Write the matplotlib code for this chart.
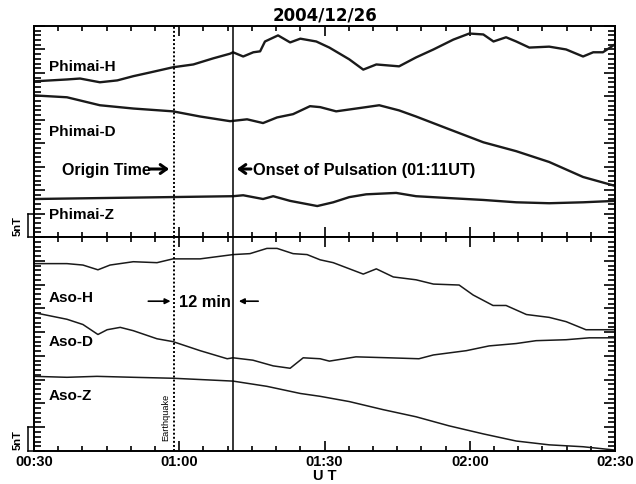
import numpy as np
import matplotlib
matplotlib.use("Agg")
import matplotlib.pyplot as plt
from matplotlib.ticker import MultipleLocator, FixedLocator

plt.rcParams["font.family"] = ["Liberation Sans", "DejaVu Sans"]

# ------------------------------------------------------------
# Data (time in minutes of UT, values in nT)
# ------------------------------------------------------------

phimai_h_t = [30.0, 36.8, 39.5, 43.6, 47.2, 50.5, 54.0, 58.7, 62.9, 67.0,
              70.5, 71.1, 73.2, 75.3, 76.7, 77.7, 80.4, 82.9, 85.0, 88.3,
              91.0, 95.1, 98.0, 100.7, 105.4, 108.9, 112.5, 116.6, 119.9, 122.8,
              124.9, 127.5, 129.6, 132.3, 136.4, 139.9, 143.4, 145.5, 147.5, 150.0]
phimai_h = [33.2, 33.6, 33.8, 33.0, 33.4, 34.3, 35.1, 36.2, 36.8, 38.1,
            39.1, 39.4, 38.5, 39.4, 39.6, 41.7, 43.0, 41.5, 42.3, 41.7,
            40.4, 37.9, 35.7, 36.8, 36.4, 38.3, 40.0, 42.1, 43.4, 43.2,
            41.7, 42.6, 41.7, 40.4, 40.6, 40.0, 38.5, 39.4, 39.4, 41.1]

phimai_d_t = [30.0, 36.8, 43.6, 50.5, 58.7, 64.3, 70.5, 74.0, 77.3, 80.2,
              83.5, 87.0, 89.1, 92.4, 98.6, 101.3, 105.4, 108.9, 115.7, 122.8,
              129.6, 136.4, 143.4, 150.0]
phimai_d = [30.2, 29.8, 28.1, 27.4, 26.8, 25.7, 24.7, 25.1, 24.3, 25.5,
            26.2, 27.9, 27.7, 26.8, 27.7, 28.1, 27.0, 25.7, 23.0, 20.2,
            18.3, 16.0, 12.8, 10.9]

phimai_z_t = [30.0, 43.6, 57.5, 71.1, 73.2, 77.3, 79.4, 82.9, 88.5, 91.8,
              95.1, 98.6, 104.8, 108.9, 115.7, 122.8, 129.6, 136.4, 143.4, 150.0]
phimai_z = [8.1, 8.3, 8.5, 8.7, 8.9, 8.1, 8.7, 7.7, 6.6, 7.4,
            8.5, 9.1, 9.4, 8.7, 8.3, 7.9, 7.4, 7.2, 7.4, 7.7]

aso_h_t = [30.0, 36.8, 40.1, 43.2, 45.7, 50.5, 55.4, 58.7, 64.3, 71.1,
           74.6, 78.1, 80.2, 83.5, 86.4, 89.1, 91.8, 98.0, 100.7, 104.2,
           108.9, 112.5, 117.8, 120.7, 124.8, 127.5, 131.7, 136.4, 139.9, 144.0,
           146.7, 150.0]
aso_h = [39.4, 39.4, 39.1, 38.1, 39.1, 39.8, 39.6, 40.4, 40.4, 41.3,
         41.5, 42.6, 42.6, 41.5, 41.3, 40.2, 39.6, 37.2, 38.3, 36.6,
         36.0, 35.1, 34.9, 32.8, 30.6, 30.6, 28.7, 28.1, 27.2, 25.5,
         25.5, 25.5]

aso_d_t = [30.0, 36.8, 40.1, 43.2, 45.1, 47.8, 50.5, 55.4, 58.7, 64.3,
           69.9, 71.1, 75.2, 79.4, 82.9, 85.6, 89.1, 91.0, 96.5, 103.3,
           109.5, 112.5, 119.3, 124.0, 129.6, 133.7, 139.9, 144.7, 150.0]
aso_d = [29.1, 27.7, 26.6, 24.5, 25.5, 26.0, 25.3, 23.6, 23.0, 21.1,
         19.4, 19.6, 19.1, 17.9, 17.4, 19.6, 19.4, 18.9, 19.8, 19.6,
         19.4, 20.2, 21.1, 22.1, 22.6, 23.2, 23.4, 23.8, 23.8]

aso_z_t = [30.0, 36.8, 43.0, 50.5, 58.7, 67.0, 71.1, 78.1, 85.0, 89.1,
           95.1, 102.1, 108.9, 115.7, 122.8, 129.6, 136.4, 143.4, 150.0]
aso_z = [15.7, 15.5, 15.7, 15.5, 15.3, 14.9, 14.7, 13.6, 12.1, 11.5,
         10.4, 8.7, 7.2, 5.3, 3.6, 2.1, 1.3, 0.9, 0.2]

x_ticks = [30, 60, 90, 120, 150]
x_tick_labels = ["00:30", "01:00", "01:30", "02:00", "02:30"]

origin_time = 58.9   # earthquake origin, 00:58:53 UT
onset_time = 71.0    # onset of pulsation, 01:11 UT


def style_axis(ax):
    ax.set_xlim(30, 150)
    ax.set_ylim(0, 45)
    ax.xaxis.set_major_locator(FixedLocator(x_ticks))
    ax.xaxis.set_minor_locator(MultipleLocator(5))
    ax.yaxis.set_major_locator(MultipleLocator(5))
    ax.yaxis.set_minor_locator(MultipleLocator(1))
    ax.tick_params(which="both", direction="in", top=True, right=True,
                   width=1.2, color="black")
    ax.tick_params(axis="y", which="major", length=8)
    ax.tick_params(axis="y", which="minor", length=5)
    ax.tick_params(axis="x", which="major", length=7)
    ax.tick_params(axis="x", which="minor", length=3.5)
    ax.tick_params(axis="y", labelleft=False)
    for spine in ax.spines.values():
        spine.set_linewidth(1.4)

    # vertical markers
    ax.axvline(origin_time, color="black", lw=1.4, ls=(0, (1, 1.1)))
    ax.axvline(onset_time, color="black", lw=1.1)

    # 5 nT scale bar on the left
    tr = ax.get_yaxis_transform()
    ax.plot([-0.011, -0.011], [0, 5], color="black", lw=1.1,
            transform=tr, clip_on=False)
    ax.plot([-0.011, 0], [0, 0], color="black", lw=1.1,
            transform=tr, clip_on=False)
    ax.plot([-0.011, 0], [5, 5], color="black", lw=1.1,
            transform=tr, clip_on=False)
    ax.text(-0.0275, 2.5, "5nT", rotation=90, transform=tr,
            ha="center", va="center", fontsize=8, fontweight="bold")


fig = plt.figure(figsize=(6.36, 4.85), dpi=100)
ax_top = fig.add_axes([0.0535, 0.5093, 0.9135, 0.4350])
ax_bot = fig.add_axes([0.0535, 0.0680, 0.9135, 0.4413])

line_color = "#1a1a1a"
arrow_kw = dict(arrowstyle="->, head_length=0.45, head_width=0.32",
                color="black", lw=2.2, shrinkA=0, shrinkB=0)

# ------------------------------------------------------------
# Upper panel: Phimai
# ------------------------------------------------------------
ax_top.plot(phimai_h_t, phimai_h, color=line_color, lw=1.7)
ax_top.plot(phimai_d_t, phimai_d, color=line_color, lw=1.7)
ax_top.plot(phimai_z_t, phimai_z, color=line_color, lw=1.7)
style_axis(ax_top)
ax_top.tick_params(axis="x", labelbottom=False)

label_kw = dict(fontsize=11, fontweight="bold", ha="left", va="center")
ax_top.text(33.0, 36.5, "Phimai-H", **label_kw)
ax_top.text(33.0, 22.7, "Phimai-D", **label_kw)
ax_top.text(33.0, 4.8, "Phimai-Z", **label_kw)

ax_top.text(35.8, 14.5, "Origin Time", fontsize=11.5,
            fontweight="bold", ha="left", va="center")
ax_top.annotate("", xy=(57.9, 14.5), xytext=(53.9, 14.5), arrowprops=arrow_kw)
ax_top.text(75.2, 14.5, "Onset of Pulsation (01:11UT)", fontsize=11.8,
            fontweight="bold", ha="left", va="center")
ax_top.annotate("", xy=(71.9, 14.5), xytext=(74.8, 14.5), arrowprops=arrow_kw)

ax_top.set_title("2004/12/26", fontsize=12, fontweight="bold", pad=5,
                 family="DejaVu Sans")

# ------------------------------------------------------------
# Lower panel: Aso
# ------------------------------------------------------------
ax_bot.plot(aso_h_t, aso_h, color=line_color, lw=1.1)
ax_bot.plot(aso_d_t, aso_d, color=line_color, lw=1.1)
ax_bot.plot(aso_z_t, aso_z, color=line_color, lw=1.1)
style_axis(ax_bot)
ax_bot.set_xticklabels(x_tick_labels, fontsize=10.5, fontweight="bold")
ax_bot.tick_params(axis="x", pad=2)
ax_bot.set_xlabel("U T", fontsize=10.5, fontweight="bold", labelpad=0.5)

ax_bot.text(33.0, 32.3, "Aso-H", **label_kw)
ax_bot.text(33.0, 23.2, "Aso-D", **label_kw)
ax_bot.text(33.0, 11.7, "Aso-Z", **label_kw)

ax_bot.text(65.2, 31.5, "12 min", fontsize=11.8, fontweight="bold",
            ha="center", va="center")
ax_bot.annotate("", xy=(58.2, 31.5), xytext=(53.6, 31.5),
                arrowprops=dict(arrowstyle="-|>", color="black", lw=1.2,
                                mutation_scale=8, shrinkA=0, shrinkB=0))
ax_bot.annotate("", xy=(72.3, 31.5), xytext=(76.3, 31.5),
                arrowprops=dict(arrowstyle="-|>", color="black", lw=1.2,
                                mutation_scale=8, shrinkA=0, shrinkB=0))

ax_bot.text(origin_time - 1.6, 7.3, "Earthquake", rotation=90, fontsize=6.6,
            ha="center", va="center")

fig.savefig("out.png", dpi=100)
